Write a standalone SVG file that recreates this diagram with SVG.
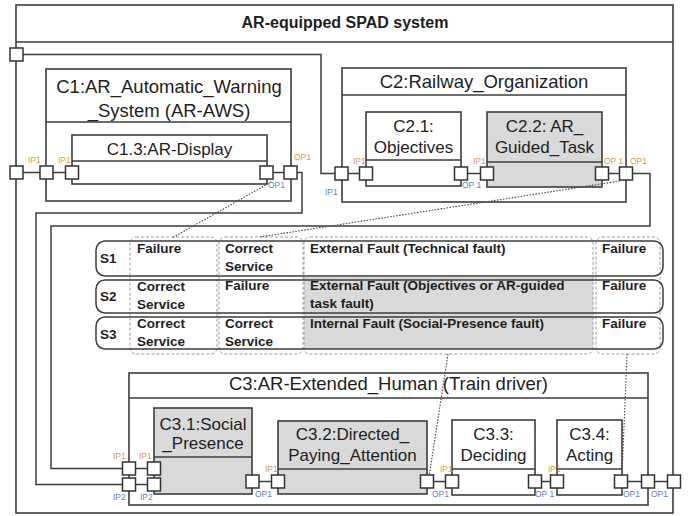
<svg xmlns="http://www.w3.org/2000/svg" width="688" height="516" viewBox="0 0 688 516">
  <style>
    .box { fill: #ffffff; stroke: #3c3c3c; stroke-width: 1.6; }
    .grey { fill: #d9d9d9; }
    .div { stroke: #3c3c3c; stroke-width: 1.6; fill: none; }
    .port { fill: #ffffff; stroke: #333333; stroke-width: 1.5; }
    .wire { fill: none; stroke: #3c3c3c; stroke-width: 1.5; }
    .trace { fill: none; stroke: #4a4a4a; stroke-width: 1.1; stroke-dasharray: 1.6 1.4; }
    .t { font-family: "Liberation Sans", Arial, sans-serif; fill: #1e1e1e; }
    .title { font-size: 18.5px; text-anchor: middle; }
    .lbl { font-size: 17px; text-anchor: middle; }
    .sys { font-size: 16px; font-weight: bold; text-anchor: middle; }
    .cell { font-size: 13.5px; font-weight: bold; }
    .pa { font-family: "Liberation Sans", Arial, sans-serif; font-size: 8.5px; fill: #d99a4e; }
    .pb { font-family: "Liberation Sans", Arial, sans-serif; font-size: 8.5px; fill: #5b7fc0; }
    .row { fill: none; stroke: #3c3c3c; stroke-width: 1.5; }
    .col { fill: none; stroke: #9a9a9a; stroke-width: 1; stroke-dasharray: 3 2; }
  </style>

  <rect width="688" height="516" fill="#ffffff"/>

  <!-- enclosing system -->
  <g id="system">
    <rect class="box" x="16" y="5" width="657" height="508"/>
    <line class="div" x1="16" y1="42" x2="673" y2="42"/>
    <text class="t sys" x="345" y="28">AR-equipped SPAD system</text>
  </g>

  <!-- C1 -->
  <g id="c1">
    <rect class="box" x="46" y="69" width="245" height="132"/>
    <line class="div" x1="46" y1="122" x2="291" y2="122"/>
    <text class="t title" x="169" y="93">C1:AR_Automatic_Warning</text>
    <text class="t title" x="169" y="117">_System (AR-AWS)</text>
  </g>
  <g id="c1_3">
    <rect class="box" x="72" y="135" width="195" height="49"/>
    <line class="div" x1="72" y1="161" x2="267" y2="161"/>
    <text class="t lbl" x="169.5" y="155">C1.3:AR-Display</text>
  </g>

  <!-- C2 -->
  <g id="c2">
    <rect class="box" x="342" y="68" width="284" height="134"/>
    <line class="div" x1="342" y1="95" x2="626" y2="95"/>
    <text class="t title" x="484" y="88">C2:Railway_Organization</text>
  </g>
  <g id="c2_1">
    <rect class="box" x="366" y="112" width="95" height="74"/>
    <line class="div" x1="366" y1="160" x2="461" y2="160"/>
    <text class="t lbl" x="413.5" y="132">C2.1:</text>
    <text class="t lbl" x="413.5" y="153">Objectives</text>
  </g>
  <g id="c2_2">
    <rect class="box grey" x="487" y="112" width="115" height="75"/>
    <line class="div" x1="487" y1="162" x2="602" y2="162"/>
    <text class="t lbl" x="544.5" y="132">C2.2: AR_</text>
    <text class="t lbl" x="544.5" y="153">Guided_Task</text>
  </g>

  <!-- C3 -->
  <g id="c3">
    <rect class="box" x="129" y="373" width="519" height="132"/>
    <line class="div" x1="129" y1="398" x2="648" y2="398"/>
    <text class="t title" x="388.5" y="390">C3:AR-Extended_Human (Train driver)</text>
  </g>
  <g id="c3_1">
    <rect class="box grey" x="154" y="408" width="98" height="86"/>
    <line class="div" x1="154" y1="457" x2="252" y2="457"/>
    <text class="t lbl" x="203" y="430">C3.1:Social</text>
    <text class="t lbl" x="203" y="449">_Presence</text>
  </g>
  <g id="c3_2">
    <rect class="box grey" x="278" y="421" width="149" height="73"/>
    <line class="div" x1="278" y1="469" x2="427" y2="469"/>
    <text class="t lbl" x="352.5" y="440">C3.2:Directed_</text>
    <text class="t lbl" x="352.5" y="461">Paying_Attention</text>
  </g>
  <g id="c3_3">
    <rect class="box" x="452" y="420" width="83" height="75"/>
    <line class="div" x1="452" y1="469" x2="535" y2="469"/>
    <text class="t lbl" x="493.5" y="440">C3.3:</text>
    <text class="t lbl" x="493.5" y="461">Deciding</text>
  </g>
  <g id="c3_4">
    <rect class="box" x="557" y="420" width="65" height="75"/>
    <line class="div" x1="557" y1="469" x2="622" y2="469"/>
    <text class="t lbl" x="589.5" y="440">C3.4:</text>
    <text class="t lbl" x="589.5" y="461">Acting</text>
  </g>

  <!-- scenario table -->
  <g id="scenarios">
    <rect class="grey" x="304" y="277" width="289" height="72"/>
    <rect class="col" x="130" y="237" width="87" height="117" rx="6"/>
    <rect class="col" x="219" y="237" width="84" height="117" rx="6"/>
    <rect class="col" x="304" y="237" width="289" height="117" rx="6"/>
    <rect class="col" x="596" y="237" width="64" height="117" rx="6"/>
    <rect class="row" x="96" y="241" width="567" height="35" rx="9"/>
    <rect class="row" x="96" y="280" width="567" height="33" rx="9"/>
    <rect class="row" x="96" y="317" width="567" height="32" rx="9"/>

    <text class="t cell" x="100" y="263">S1</text>
    <text class="t cell" x="137" y="253">Failure</text>
    <text class="t cell" x="225" y="253">Correct</text>
    <text class="t cell" x="225" y="271">Service</text>
    <text class="t cell" x="310" y="253">External Fault (Technical fault)</text>
    <text class="t cell" x="602" y="253">Failure</text>

    <text class="t cell" x="100" y="301">S2</text>
    <text class="t cell" x="137" y="291">Correct</text>
    <text class="t cell" x="137" y="309">Service</text>
    <text class="t cell" x="225" y="290">Failure</text>
    <text class="t cell" x="310" y="290">External Fault (Objectives or AR-guided</text>
    <text class="t cell" x="310" y="308">task fault)</text>
    <text class="t cell" x="602" y="290">Failure</text>

    <text class="t cell" x="100" y="339">S3</text>
    <text class="t cell" x="137" y="328">Correct</text>
    <text class="t cell" x="137" y="346">Service</text>
    <text class="t cell" x="225" y="328">Correct</text>
    <text class="t cell" x="225" y="346">Service</text>
    <text class="t cell" x="310" y="328">Internal Fault (Social-Presence fault)</text>
    <text class="t cell" x="602" y="328">Failure</text>
  </g>

  <!-- connectors -->
  <g id="connectors">
    <!-- system input to C2 -->
    <polyline class="wire" points="23,54.5 321,54.5 321,173.5 335,173.5"/>
    <line class="wire" x1="348" y1="173.5" x2="359.5" y2="173.5"/>
    <!-- system input to C1 / C1.3 -->
    <line class="wire" x1="23" y1="172.5" x2="40" y2="172.5"/>
    <line class="wire" x1="53" y1="172.5" x2="65.5" y2="172.5"/>
    <!-- C1.3 output to C3 IP2 -->
    <line class="wire" x1="273" y1="172.5" x2="284" y2="172.5"/>
    <polyline class="wire" points="297,172.5 302,172.5 302,213 36,213 36,484.5 122.5,484.5"/>
    <!-- C2 internal -->
    <line class="wire" x1="467.5" y1="173.5" x2="480.5" y2="173.5"/>
    <line class="wire" x1="608.5" y1="173.5" x2="619.5" y2="173.5"/>
    <!-- C2 output to C3 IP1 -->
    <polyline class="wire" points="632.5,173.5 650,173.5 650,226 51,226 51,468.5 122.5,468.5"/>
    <!-- C3 internal chain -->
    <line class="wire" x1="135.5" y1="468.5" x2="147.5" y2="468.5"/>
    <line class="wire" x1="135.5" y1="484.5" x2="147.5" y2="484.5"/>
    <line class="wire" x1="259" y1="481.5" x2="271.5" y2="481.5"/>
    <line class="wire" x1="433.5" y1="481.5" x2="445.5" y2="481.5"/>
    <line class="wire" x1="541.5" y1="481.5" x2="550.5" y2="481.5"/>
    <line class="wire" x1="627.5" y1="481.5" x2="641.5" y2="481.5"/>
    <line class="wire" x1="654.5" y1="481.5" x2="667.5" y2="481.5"/>

    <!-- scenario traces -->
    <line class="trace" x1="271" y1="182" x2="172" y2="238"/>
    <line class="trace" x1="620" y1="181" x2="260" y2="237"/>
    <line class="trace" x1="448" y1="354" x2="429" y2="477"/>
    <line class="trace" x1="627" y1="354" x2="622" y2="476"/>

    <!-- ports -->
    <rect class="port" x="10" y="48" width="13" height="13"/>
    <rect class="port" x="10" y="166" width="13" height="13"/>
    <rect class="port" x="40" y="166" width="13" height="13"/>
    <rect class="port" x="65.5" y="166" width="13" height="13"/>
    <rect class="port" x="260" y="166" width="13" height="13"/>
    <rect class="port" x="284" y="166" width="13" height="13"/>
    <rect class="port" x="335" y="167" width="13" height="13"/>
    <rect class="port" x="359.5" y="167" width="13" height="13"/>
    <rect class="port" x="454.5" y="167" width="13" height="13"/>
    <rect class="port" x="480.5" y="167" width="13" height="13"/>
    <rect class="port" x="595.5" y="167" width="13" height="13"/>
    <rect class="port" x="619.5" y="167" width="13" height="13"/>
    <rect class="port" x="122.5" y="462" width="13" height="13"/>
    <rect class="port" x="122.5" y="478" width="13" height="13"/>
    <rect class="port" x="147.5" y="462" width="13" height="13"/>
    <rect class="port" x="147.5" y="478" width="13" height="13"/>
    <rect class="port" x="246" y="475" width="13" height="13"/>
    <rect class="port" x="271.5" y="475" width="13" height="13"/>
    <rect class="port" x="420.5" y="475" width="13" height="13"/>
    <rect class="port" x="445.5" y="475" width="13" height="13"/>
    <rect class="port" x="528.5" y="475" width="13" height="13"/>
    <rect class="port" x="550.5" y="475" width="13" height="13"/>
    <rect class="port" x="614.5" y="475" width="13" height="13"/>
    <rect class="port" x="641.5" y="475" width="13" height="13"/>
    <rect class="port" x="667.5" y="475" width="13" height="13"/>

    <!-- port names -->
    <text class="pa" x="28" y="163">IP1</text>
    <text class="pa" x="58" y="163">IP1</text>
    <text class="pa" x="294" y="160">OP1</text>
    <text class="pb" x="268" y="188">OP1</text>
    <text class="pb" x="325" y="195">IP1</text>
    <text class="pa" x="353" y="164">IP1</text>
    <text class="pb" x="462" y="188">OP 1</text>
    <text class="pa" x="473" y="164">IP1</text>
    <text class="pa" x="604" y="164">OP 1</text>
    <text class="pa" x="630" y="164">OP1</text>
    <text class="pa" x="113" y="459">IP1</text>
    <text class="pa" x="139" y="459">IP1</text>
    <text class="pb" x="113" y="500">IP2</text>
    <text class="pb" x="140" y="500">IP2</text>
    <text class="pb" x="255" y="497">OP1</text>
    <text class="pa" x="265" y="472">IP1</text>
    <text class="pb" x="432" y="497">OP1</text>
    <text class="pa" x="440" y="472">IP1</text>
    <text class="pb" x="535" y="497">OP 1</text>
    <text class="pa" x="548" y="472">IP1</text>
    <text class="pb" x="623" y="497">OP1</text>
    <text class="pb" x="651" y="497">OP1</text>
  </g>
</svg>
